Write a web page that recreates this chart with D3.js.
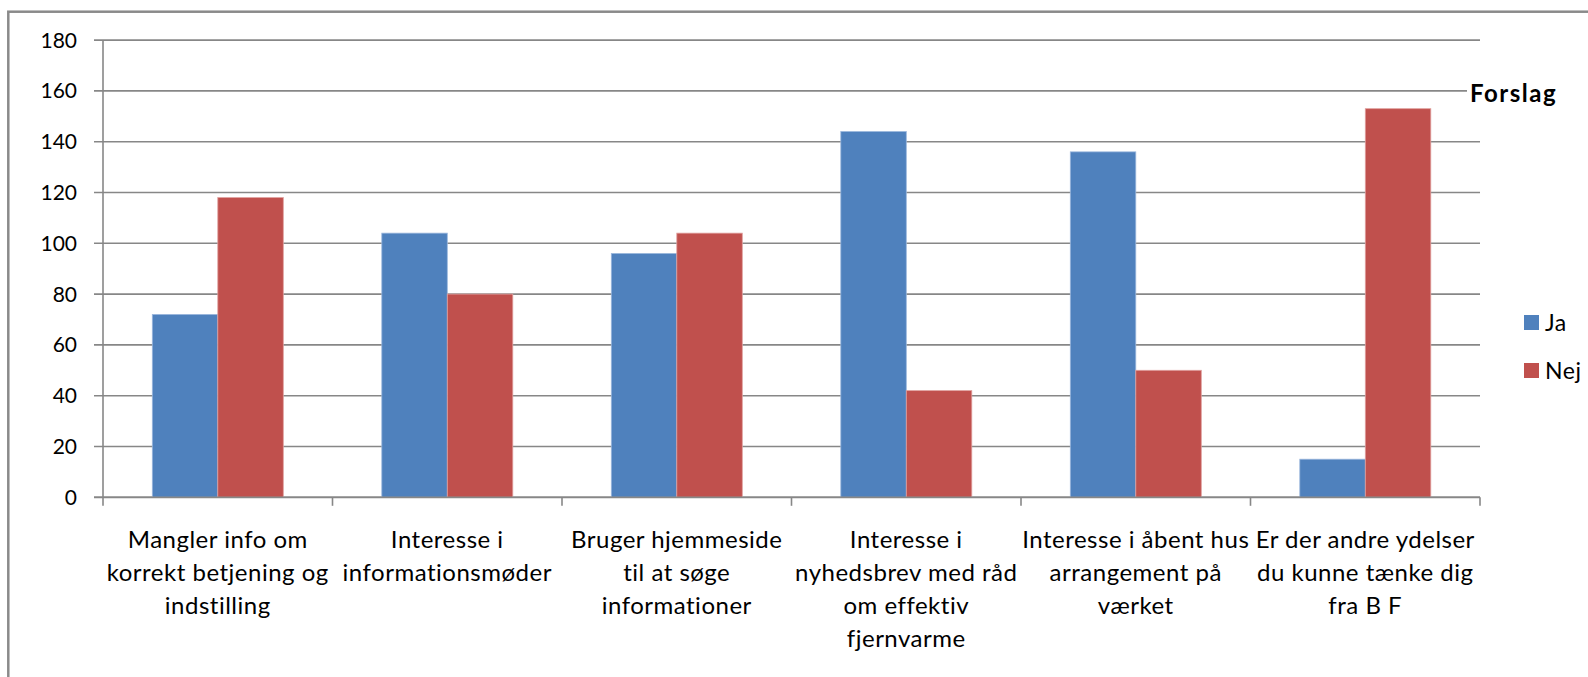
<!DOCTYPE html>
<html>
<head>
<meta charset="utf-8">
<script src="https://cdn.jsdelivr.net/npm/d3@7"></script>
<style>
  html, body { margin: 0; padding: 0; background: #fff; }
  svg { display: block; }
  text { font-family: Lato, "Open Sans", sans-serif; fill: #000; }
</style>
</head>
<body>
<svg id="chart" width="1588" height="677"></svg>
<script>
const categories = [
  ["Mangler info om", "korrekt betjening og", "indstilling"],
  ["Interesse i", "informationsmøder"],
  ["Bruger hjemmeside", "til at søge", "informationer"],
  ["Interesse i", "nyhedsbrev med råd", "om effektiv", "fjernvarme"],
  ["Interesse i åbent hus", "arrangement på", "værket"],
  ["Er der andre ydelser", "du kunne tænke dig", "fra B F"]
];
const seriesNames = ["Ja", "Nej"];
const jaValues  = [72, 104, 96, 144, 136, 15];
const nejValues = [118, 80, 104, 42, 50, 153];
const yTicks = [0, 20, 40, 60, 80, 100, 120, 140, 160, 180];
const colors = ["#4f81bd", "#c0504d"];
const chartTitle = "Forslag";

(function () {
const svg = d3.select("#chart");
const pLeft = 103, pRight = 1480, pTop = 40.1, pBottom = 497.3;
const gridColor = "#878787";

// outer border
svg.append("rect")
  .attr("x", 8.3).attr("y", 11.7).attr("width", 1700).attr("height", 800)
  .attr("fill", "none").attr("stroke", "#8a8a8a").attr("stroke-width", 2.5);

const y = d3.scaleLinear().domain([0, 180]).range([pBottom, pTop]);
const keys = categories.map((c, i) => i);
const x0 = d3.scaleBand().domain(keys).range([pLeft, pRight]).padding(0);
const inner = d3.scaleBand().domain(seriesNames).range([49.3, 49.3 + 131]).padding(0);

// gridlines + y ticks
svg.append("g").selectAll("line").data(yTicks).join("line")
  .attr("x1", pLeft - 9).attr("x2", pRight)
  .attr("y1", d => y(d)).attr("y2", d => y(d))
  .attr("stroke", gridColor).attr("stroke-width", 1.6);

// y labels
svg.append("g").selectAll("text").data(yTicks).join("text")
  .attr("x", 77).attr("y", d => y(d))
  .attr("dy", "0.36em")
  .attr("text-anchor", "end")
  .style("font-size", "21px")
  .text(d => d);

// bars
const data = categories.map((c, i) => ({ i, values: [jaValues[i], nejValues[i]] }));
const groups = svg.append("g").selectAll("g").data(data).join("g")
  .attr("transform", d => `translate(${x0(d.i)},0)`);
groups.selectAll("rect").data(d => d.values.map((v, k) => ({ v, k })))
  .join("rect")
  .attr("x", d => inner(seriesNames[d.k]))
  .attr("width", inner.bandwidth())
  .attr("y", d => y(d.v))
  .attr("height", d => y(0) - y(d.v))
  .attr("fill", d => colors[d.k])
  .attr("stroke", d => d.k === 0 ? "#9bb7dd" : "#e0a09e")
  .attr("stroke-width", 0.8);

// y axis line
svg.append("line")
  .attr("x1", pLeft).attr("x2", pLeft).attr("y1", pTop).attr("y2", pBottom)
  .attr("stroke", gridColor).attr("stroke-width", 1.6);
// x axis line
svg.append("line")
  .attr("x1", pLeft - 9).attr("x2", pRight).attr("y1", pBottom).attr("y2", pBottom)
  .attr("stroke", gridColor).attr("stroke-width", 1.8);
// x ticks at category boundaries
const bounds = keys.map(k => x0(k)).concat([pRight]);
svg.append("g").selectAll("line").data(bounds).join("line")
  .attr("x1", d => d).attr("x2", d => d)
  .attr("y1", pBottom).attr("y2", pBottom + 8.5)
  .attr("stroke", gridColor).attr("stroke-width", 1.6);

// category labels
const lab = svg.append("g").selectAll("text").data(categories).join("text")
  .attr("text-anchor", "middle")
  .style("font-size", "24px")
  .style("letter-spacing", "0.5px")
  .attr("x", (d, i) => x0(i) + x0.bandwidth() / 2)
  .attr("y", 548.3);
lab.selectAll("tspan").data(d => d).join("tspan")
  .attr("x", function () { return d3.select(this.parentNode).attr("x"); })
  .attr("dy", (d, j) => j === 0 ? 0 : 32.8)
  .text(d => d);

// title with white backing
svg.append("rect").attr("x", 1467).attr("y", 80).attr("width", 95).attr("height", 28).attr("fill", "#fff");
svg.append("text")
  .attr("x", 1470).attr("y", 101.7)
  .style("font-size", "24px").style("font-weight", "bold")
  .style("letter-spacing", "1.5px")
  .text(chartTitle);

// legend
const leg = svg.append("g").selectAll("g").data(seriesNames).join("g")
  .attr("transform", (d, i) => `translate(1524,${315 + i * 48})`);
leg.append("rect").attr("width", 15).attr("height", 15).attr("fill", (d, i) => colors[i]);
leg.append("text").attr("x", 21).attr("y", 7.5).attr("dy", "0.36em")
  .style("font-size", "23px").style("letter-spacing", "0.6px").text(d => d);
})();
</script>
</body>
</html>
